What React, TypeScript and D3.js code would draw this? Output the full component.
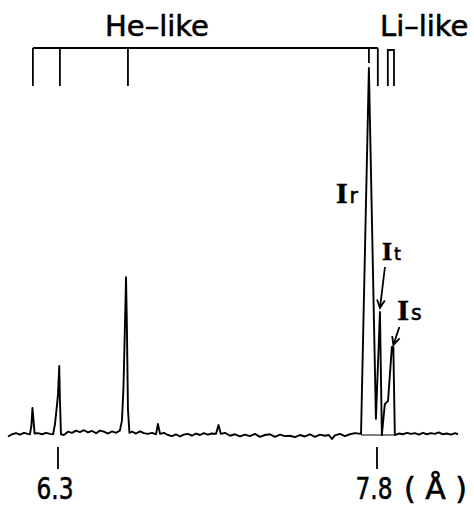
import React, { useEffect, useRef } from 'react';
import * as d3 from 'd3';

// wavelength (Å) and relative intensity of the trace
const WAVE = [
  6.065, 6.084, 6.103, 6.121, 6.14, 6.159, 6.168, 6.175, 6.18, 6.185, 6.19, 6.206, 6.225, 6.244,
  6.262, 6.277, 6.286, 6.295, 6.3, 6.306, 6.309, 6.314, 6.328, 6.347, 6.366, 6.385, 6.403, 6.422,
  6.441, 6.46, 6.479, 6.497, 6.516, 6.535, 6.554, 6.573, 6.591, 6.601, 6.608, 6.615, 6.62, 6.624,
  6.629, 6.636, 6.648, 6.667, 6.686, 6.704, 6.723, 6.742, 6.761, 6.77, 6.78, 6.798, 6.817, 6.836,
  6.855, 6.874, 6.892, 6.911, 6.93, 6.949, 6.968, 6.986, 7.005, 7.024, 7.043, 7.055, 7.066, 7.085,
  7.109, 7.132, 7.156, 7.179, 7.203, 7.226, 7.25, 7.273, 7.297, 7.32, 7.344, 7.367, 7.391, 7.414,
  7.438, 7.461, 7.485, 7.508, 7.532, 7.555, 7.574, 7.588, 7.602, 7.626, 7.649, 7.673, 7.696, 7.725,
  7.762, 7.795, 7.814, 7.823, 7.837, 7.852, 7.87, 7.877, 7.884, 7.903, 7.922, 7.941, 7.96, 7.978,
  7.997, 8.016, 8.035, 8.054, 8.072, 8.091, 8.11, 8.129, 8.148, 8.167, 8.181,
];
const INTENSITY = [
  -0.4, 0.2, 0.5, 0.1, 0.6, 0.3, 0.2, 2.5, 7.4, 4.0, 0.4, 0.5, 0.2, 0.6,
  0.3, 0.2, 3.0, 8.0, 11.0, 18.8, 10.0, 0.2, 0.0, 0.9, 0.6, 1.2, 0.8, 1.3,
  0.7, 1.1, 0.5, 1.2, 0.9, 0.4, 1.0, 0.6, 1.2, 4.0, 13.0, 30.0, 43.0, 30.0,
  7.0, 0.6, 0.9, 0.4, 1.0, 0.5, 0.3, 0.6, 0.2, 3.0, 0.3, 0.6, 0.0, -0.3,
  0.2, -0.4, 0.1, 0.3, -0.2, 0.4, 0.0, 0.5, 0.1, 0.4, 0.3, 2.7, 0.3, 0.6,
  -0.2, 0.2, -0.4, 0.1, -0.3, 0.3, -0.5, 0.0, 0.2, -0.5, 0.1, -0.3, -0.2, -0.6,
  0.0, -0.4, 0.2, -0.5, 0.1, -0.2, 0.0, -1.1, -0.1, 0.3, -0.3, 0.2, 0.5, 0.3,
  100, 4.4, 33.5, 0.0, 8.4, 9.3, 24.0, 24.0, 0.0, 0.4, 0.2, 0.6, 0.3, 0.5,
  0.1, 0.6, 0.2, 0.5, 0.3, 0.7, 0.2, 0.4, 0.1, 0.5, 0.2,
];

// line identification markers
const HE_LINES = [6.182, 6.309, 6.629, 7.762, 7.804];
const LI_LINES = [7.851, 7.88];
const TICKS = [6.3, 7.8];
const TICK_LABELS = ['6.3', '7.8'];

const App = () => {
  const ref = useRef<SVGSVGElement | null>(null);

  useEffect(() => {
    const svg = d3.select(ref.current);
    svg.selectAll('*').remove();

    const x = d3.scaleLinear().domain([6.065, 8.181]).range([8, 458]);
    const y = d3.scaleLinear().domain([0, 100]).range([435, 68]);

    const data = WAVE.map((w, i) => [w, INTENSITY[i]] as [number, number]);
    const line = d3
      .line<[number, number]>()
      .x(d => x(d[0]))
      .y(d => y(d[1]));

    const g = svg.append('g').attr('fill', 'none').attr('stroke', '#000');

    // baseline under the Ir..Is group
    g.append('line')
      .attr('x1', x(7.725))
      .attr('x2', x(7.884))
      .attr('y1', y(0))
      .attr('y2', y(0))
      .attr('stroke-width', 1.2);

    g.append('path').attr('d', line(data)).attr('stroke-width', 1.9).attr('stroke-linejoin', 'round');

    // He-like bracket
    const top = 48;
    g.append('line')
      .attr('x1', x(HE_LINES[0]))
      .attr('x2', x(HE_LINES[HE_LINES.length - 1]))
      .attr('y1', top)
      .attr('y2', top)
      .attr('stroke-width', 1.8);
    HE_LINES.forEach((w, i) => {
      g.append('line')
        .attr('x1', x(w))
        .attr('x2', x(w))
        .attr('y1', top)
        .attr('y2', i === 3 ? 63 : 86)
        .attr('stroke-width', 1.8);
    });

    // Li-like bracket
    g.append('path')
      .attr('d', `M${x(LI_LINES[0])},86V${top + 2}H${x(LI_LINES[1])}V86`)
      .attr('stroke-width', 1.8);

    // x ticks
    TICKS.forEach(t => {
      g.append('line')
        .attr('x1', x(t))
        .attr('x2', x(t))
        .attr('y1', 447)
        .attr('y2', 469)
        .attr('stroke-width', 1.8);
    });

    const txt = svg
      .append('g')
      .attr('fill', '#000')
      .attr('stroke', '#000')
      .attr('stroke-width', 0.6)
      .attr('font-family', 'DejaVu Sans');

    TICKS.forEach((t, i) => {
      txt
        .append('text')
        .attr('x', x(t) - 3)
        .attr('y', 499)
        .attr('text-anchor', 'middle')
        .attr('font-size', 30)
        .attr('textLength', 37)
        .attr('lengthAdjust', 'spacingAndGlyphs')
        .text(TICK_LABELS[i]);
    });
    txt
      .append('text')
      .attr('x', 404)
      .attr('y', 499)
      .attr('font-size', 30)
      .attr('textLength', 63)
      .attr('lengthAdjust', 'spacingAndGlyphs')
      .text('( Å )');

    txt.append('text').attr('x', 105).attr('y', 36).attr('font-size', 29).text('He–like');
    txt.append('text').attr('x', 380).attr('y', 36).attr('font-size', 29).text('Li–like');

    // line labels
    const label = (px: number, py: number, sub: string, size: number) => {
      const t = txt.append('text').attr('x', px).attr('y', py);
      t.append('tspan')
        .attr('font-family', 'Liberation Serif')
        .attr('font-weight', 'bold')
        .attr('font-size', size)
        .text('I');
      t.append('tspan').attr('font-size', size * 0.68).attr('dx', 2).text(sub);
    };
    label(x(7.762) - 33, 203, 'r', 30);
    label(x(7.814) + 2, 260, 't', 26);
    label(x(7.877) + 4, 320, 's', 30);

    // arrows
    const arrow = (x0: number, y0: number, x1: number, y1: number) => {
      const a = Math.atan2(y1 - y0, x1 - x0);
      const l = 9;
      const s = 0.45;
      g.append('path')
        .attr(
          'd',
          `M${x0},${y0}L${x1},${y1}` +
            `M${x1 - l * Math.cos(a - s)},${y1 - l * Math.sin(a - s)}L${x1},${y1}` +
            `L${x1 - l * Math.cos(a + s)},${y1 - l * Math.sin(a + s)}`
        )
        .attr('stroke-width', 1.8);
    };
    arrow(x(7.814) + 5, 267, x(7.814), y(33.5) - 4);
    arrow(x(7.877) + 6, 327, x(7.877), y(24) - 2);
  }, []);

  return (
    <svg
      ref={ref}
      width={474}
      height={506}
      style={{ position: 'absolute', left: 0, top: 0, background: '#fff' }}
    />
  );
};

export default App;
